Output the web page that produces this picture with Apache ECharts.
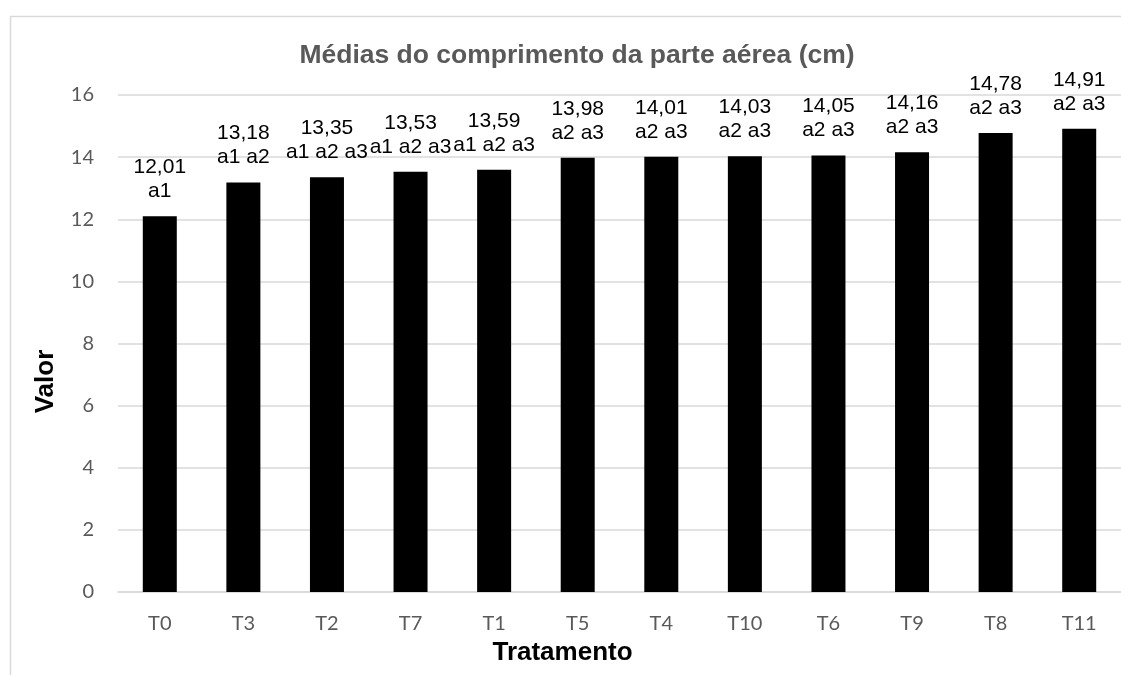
<!DOCTYPE html>
<html>
<head>
<meta charset="utf-8">
<script src="https://cdn.jsdelivr.net/npm/echarts@6/dist/echarts.min.js"></script>
<style>
  html, body { margin: 0; padding: 0; background: #fff; }
  #chart { width: 1121px; height: 675px; }
</style>
</head>
<body>
<div id="chart"></div>
<script>
const categories = ['T0', 'T3', 'T2', 'T7', 'T1', 'T5', 'T4', 'T10', 'T6', 'T9', 'T8', 'T11'];
const barValues = [12.1, 13.18, 13.35, 13.53, 13.59, 13.98, 14.01, 14.03, 14.05, 14.16, 14.78, 14.91];
const valueTexts = ['12,01', '13,18', '13,35', '13,53', '13,59', '13,98', '14,01', '14,03', '14,05', '14,16', '14,78', '14,91'];
const groupTexts = ['a1', 'a1 a2', 'a1 a2 a3', 'a1 a2 a3', 'a1 a2 a3', 'a2 a3', 'a2 a3', 'a2 a3', 'a2 a3', 'a2 a3', 'a2 a3', 'a2 a3'];
const yMin = 0, yMax = 16, yStep = 2;

const chart = echarts.init(document.getElementById('chart'), null, { renderer: 'canvas' });
chart.setOption({
  animation: false,
  backgroundColor: '#ffffff',
  graphic: [{
    type: 'rect',
    shape: { x: 10.5, y: 16.5, width: 1300, height: 900 },
    style: { fill: 'none', stroke: '#d9d9d9', lineWidth: 1.5 },
    silent: true
  }],
  title: {
    text: 'Médias do comprimento da parte aérea (cm)',
    left: 572,
    textAlign: 'center',
    top: 37,
    textStyle: { fontFamily: 'Liberation Sans, Arial, sans-serif', fontWeight: 'bold', fontSize: 26.5, color: '#595959' }
  },
  grid: { left: 118, right: -11, top: 95, bottom: 83, containLabel: false },
  xAxis: {
    type: 'category',
    data: categories,
    name: 'Tratamento',
    nameLocation: 'middle',
    nameGap: 48,
    nameTextStyle: { fontFamily: 'Liberation Sans, Arial, sans-serif', fontWeight: 'bold', fontSize: 26, color: '#000', padding: [0, 114, 0, 0] },
    axisLine: { show: true, lineStyle: { color: '#d9d9d9', width: 1.5 } },
    axisTick: { show: false },
    axisLabel: { color: '#595959', fontFamily: 'Lato, sans-serif', fontSize: 20, margin: 22 }
  },
  yAxis: {
    type: 'value',
    min: yMin, max: yMax, interval: yStep,
    name: 'Valor',
    nameLocation: 'middle',
    nameRotate: 90,
    nameGap: 59,
    nameTextStyle: { fontFamily: 'Liberation Sans, Arial, sans-serif', fontWeight: 'bold', fontSize: 26, color: '#000', padding: [0, 76, 0, 0] },
    axisLine: { show: false },
    axisTick: { show: false },
    splitLine: { lineStyle: { color: '#d9d9d9', width: 1.5 } },
    axisLabel: { color: '#595959', fontFamily: 'Lato, sans-serif', fontSize: 20, margin: 24 }
  },
  series: [{
    type: 'bar',
    data: barValues,
    barWidth: 34,
    itemStyle: { color: '#000000' },
    label: {
      show: true,
      position: 'top',
      distance: 13,
      fontFamily: 'Liberation Sans, Arial, sans-serif',
      fontSize: 21,
      lineHeight: 24,
      color: '#000',
      align: 'center',
      formatter: p => valueTexts[p.dataIndex] + '\n' + groupTexts[p.dataIndex]
    }
  }]
});
</script>
</body>
</html>
